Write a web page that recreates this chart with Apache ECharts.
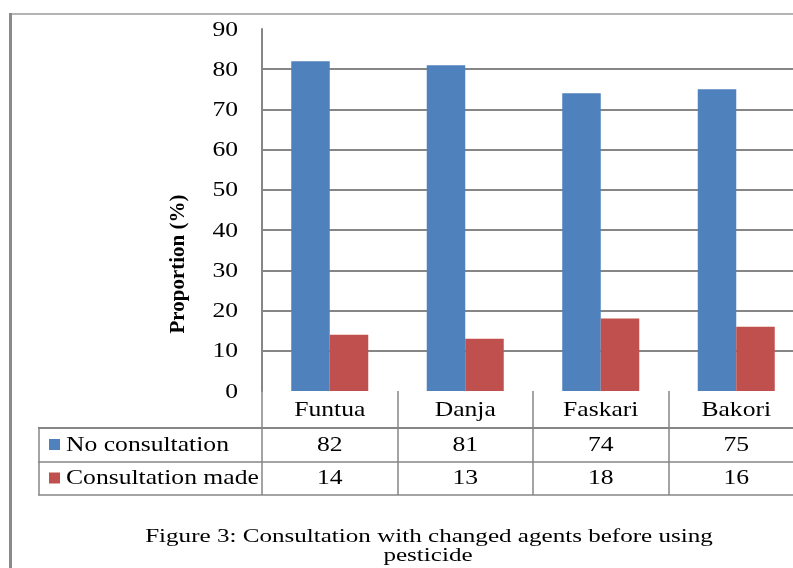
<!DOCTYPE html>
<html>
<head>
<meta charset="utf-8">
<script src="https://cdn.jsdelivr.net/npm/echarts@6/dist/echarts.min.js"></script>
<style>
  html, body { margin: 0; padding: 0; background: #fff; }
  #chart { width: 793px; height: 568px; }
</style>
</head>
<body>
<div id="chart"></div>
<script>
// Categories and series values
const categories = ['Funtua', 'Danja', 'Faskari', 'Bakori'];
const seriesNames = ['No consultation', 'Consultation made'];
const noConsultation = [82, 81, 74, 75];
const consultationMade = [14, 13, 18, 16];
const yTicks = [0, 10, 20, 30, 40, 50, 60, 70, 80, 90];
const yAxisTitle = 'Proportion (%)';
const captionLines = ['Figure 3: Consultation with changed agents before using', 'pesticide'];

const COLORS = ['#4F81BD', '#C0504D'];
const GRID_COLOR = '#868686';
const SERIF = '"Liberation Serif", "Times New Roman", serif';
const TEXT_FONT = '21px ' + SERIF;
const STRETCH = 1.22; // wide-set lettering used throughout the chart

const chart = echarts.init(document.getElementById('chart'), null, { renderer: 'canvas' });

const GRID = { left: 262, top: 29, width: 542, height: 362, outerBoundsMode: 'none', containLabel: false };

chart.setOption({
  animation: false,
  backgroundColor: '#fff',
  grid: GRID,
  xAxis: {
    type: 'category',
    data: categories,
    boundaryGap: true,
    axisLine: { show: false },
    axisTick: {
      show: true,
      alignWithLabel: false,
      length: 104,
      lineStyle: { color: GRID_COLOR, width: 1.5 }
    },
    axisLabel: { show: false },
    splitLine: { show: false }
  },
  yAxis: {
    type: 'value',
    min: yTicks[0],
    max: yTicks[yTicks.length - 1],
    interval: yTicks[1] - yTicks[0],
    axisLine: { show: true, lineStyle: { color: GRID_COLOR, width: 2 } },
    axisTick: { show: false },
    axisLabel: { show: false },
    splitLine: {
      show: true,
      showMinLine: false,
      showMaxLine: false,
      lineStyle: { color: GRID_COLOR, width: 2 }
    }
  },
  series: [
    {
      name: seriesNames[0],
      type: 'bar',
      data: noConsultation,
      barWidth: 38.5,
      barGap: '0%',
      itemStyle: { color: COLORS[0] }
    },
    {
      name: seriesNames[1],
      type: 'bar',
      data: consultationMade,
      barWidth: 38.5,
      barGap: '0%',
      itemStyle: { color: COLORS[1] }
    }
  ]
});

// Helper for stretched text anchored at (x, y)
function label(x, y, text, align, opts) {
  opts = opts || {};
  return {
    type: 'text',
    x: x, y: y,
    scaleX: opts.scaleX || STRETCH,
    rotation: opts.rotation || 0,
    style: {
      x: 0, y: 0, text: text, fill: '#000',
      font: opts.font || TEXT_FONT,
      textAlign: align, textVerticalAlign: 'middle'
    }
  };
}

const rowValues = [noConsultation, consultationMade];
const rowLineY = [428, 462, 495];
const graphics = [];

// outer frame
graphics.push({ type: 'line', shape: { x1: 10, y1: 14, x2: 793, y2: 14 }, style: { stroke: '#b4b4b4', lineWidth: 2 } });
graphics.push({ type: 'line', shape: { x1: 10.5, y1: 13, x2: 10.5, y2: 568 }, style: { stroke: '#8a8a8a', lineWidth: 3 } });

// y tick labels
yTicks.forEach(v => {
  const py = chart.convertToPixel({ yAxisIndex: 0 }, v);
  graphics.push(label(238, py + 1, String(v), 'right'));
});

// y axis title, centred over plot and table
graphics.push(label(179, 264, yAxisTitle, 'center', { font: 'bold 21px ' + SERIF, rotation: Math.PI / 2, scaleX: 1.0 }));

// table rules
rowLineY.forEach((y, i) => {
  graphics.push({ type: 'line', shape: { x1: 38, y1: y, x2: 793, y2: y }, style: { stroke: GRID_COLOR, lineWidth: i === 0 ? 2 : 1.5 } });
});
graphics.push({ type: 'line', shape: { x1: 39, y1: rowLineY[0], x2: 39, y2: rowLineY[2] }, style: { stroke: GRID_COLOR, lineWidth: 1.5 } });

// category header cells
categories.forEach(cat => {
  const px = chart.convertToPixel({ xAxisIndex: 0 }, cat);
  graphics.push(label(px, 410, cat, 'center'));
});

// row headers with legend keys and cell values
seriesNames.forEach((name, r) => {
  const cy = (rowLineY[r] + rowLineY[r + 1]) / 2;
  graphics.push({ type: 'rect', shape: { x: 49, y: cy - 6, width: 11, height: 11 }, style: { fill: COLORS[r] } });
  graphics.push(label(66, cy, name, 'left'));
  categories.forEach((cat, c) => {
    const px = chart.convertToPixel({ xAxisIndex: 0 }, cat);
    graphics.push(label(px, cy, String(rowValues[r][c]), 'center'));
  });
});

// caption
graphics.push(label(429, 537, captionLines[0], 'center', { font: '19px ' + SERIF, scaleX: 1.32 }));
graphics.push(label(428, 556, captionLines[1], 'center', { font: '19px ' + SERIF, scaleX: 1.32 }));

chart.setOption({ graphic: graphics.map(g => Object.assign({ silent: true, z: 10 }, g)) });
</script>
</body>
</html>
